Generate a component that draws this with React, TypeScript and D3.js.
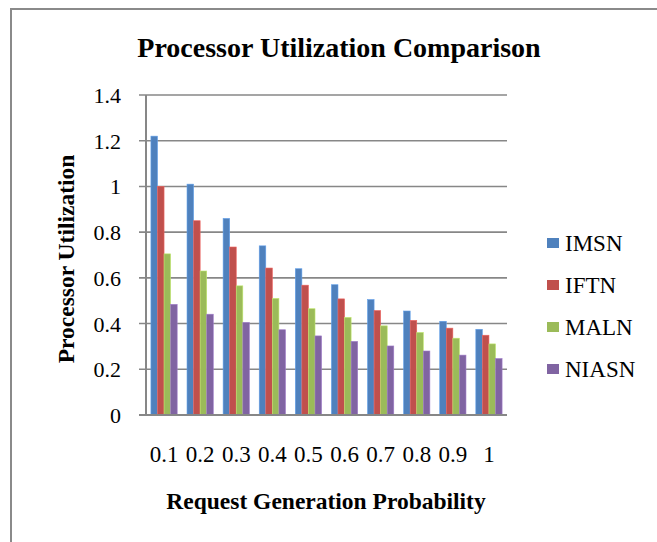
import React, { useEffect, useRef } from 'react';
import * as d3 from 'd3';

const categories = ['0.1', '0.2', '0.3', '0.4', '0.5', '0.6', '0.7', '0.8', '0.9', '1'];
const seriesNames = ['IMSN', 'IFTN', 'MALN', 'NIASN'];
const imsn = [1.22, 1.01, 0.86, 0.74, 0.64, 0.57, 0.505, 0.455, 0.41, 0.375];
const iftn = [1.0, 0.85, 0.735, 0.643, 0.568, 0.508, 0.457, 0.414, 0.38, 0.349];
const maln = [0.705, 0.63, 0.565, 0.51, 0.465, 0.427, 0.39, 0.361, 0.336, 0.311];
const niasn = [0.484, 0.441, 0.405, 0.373, 0.346, 0.322, 0.302, 0.28, 0.262, 0.247];
const yTicks = [0, 0.2, 0.4, 0.6, 0.8, 1, 1.2, 1.4];
const colors = ['#4F81BD', '#C0504D', '#9BBB59', '#8064A2'];

const W = 657;
const H = 542;
const FONT = '"Liberation Serif", "Times New Roman", serif';

export default function App() {
  const svgRef = useRef<SVGSVGElement | null>(null);

  useEffect(() => {
    if (!svgRef.current) return;
    const svg = d3.select(svgRef.current);
    svg.selectAll('*').remove();

    const values = [imsn, iftn, maln, niasn];
    const plot = { left: 146, right: 507, top: 95, bottom: 415 };

    // outer frame (only left and top edges show)
    svg.append('rect')
      .attr('x', 11).attr('y', 9)
      .attr('width', W + 20).attr('height', H + 20)
      .attr('fill', '#fff')
      .attr('stroke', '#8a8a8a')
      .attr('stroke-width', 2);

    const x = d3.scaleBand<string>()
      .domain(categories)
      .range([plot.left, plot.right])
      .paddingInner(1.5 / 5.5)
      .paddingOuter(0.75 / 5.5);

    const xs = d3.scaleBand<string>()
      .domain(seriesNames)
      .range([0, x.bandwidth()]);

    const y = d3.scaleLinear().domain([0, 1.4]).range([plot.bottom, plot.top]);

    // grid
    svg.append('g')
      .selectAll('line')
      .data(yTicks.filter(d => d > 0))
      .join('line')
      .attr('x1', plot.left - 7)
      .attr('x2', plot.right)
      .attr('y1', d => y(d))
      .attr('y2', d => y(d))
      .attr('stroke', '#878787')
      .attr('stroke-width', 1.6);

    // bars
    values.forEach((vals, si) => {
      svg.append('g')
        .selectAll('rect')
        .data(vals)
        .join('rect')
        .attr('x', (d, i) => (x(categories[i]) as number) + (xs(seriesNames[si]) as number))
        .attr('y', d => y(d))
        .attr('width', xs.bandwidth())
        .attr('height', d => plot.bottom - y(d))
        .attr('fill', colors[si])
        .attr('stroke', d3.color(colors[si])!.brighter(0.6).toString())
        .attr('stroke-width', 0.6);
    });

    // axes lines
    svg.append('line')
      .attr('x1', plot.left).attr('x2', plot.left)
      .attr('y1', plot.top).attr('y2', plot.bottom)
      .attr('stroke', '#878787').attr('stroke-width', 2);
    svg.append('line')
      .attr('x1', plot.left - 7).attr('x2', plot.right)
      .attr('y1', plot.bottom).attr('y2', plot.bottom)
      .attr('stroke', '#878787').attr('stroke-width', 2);

    // y tick labels
    svg.append('g')
      .selectAll('text')
      .data(yTicks)
      .join('text')
      .attr('x', 121)
      .attr('y', d => y(d) + 8)
      .attr('text-anchor', 'end')
      .attr('font-family', FONT)
      .attr('font-size', 22)
      .text(d => String(d));

    // x tick labels
    svg.append('g')
      .selectAll('text')
      .data(categories)
      .join('text')
      .attr('x', d => (x(d) as number) + x.bandwidth() / 2)
      .attr('y', 462)
      .attr('text-anchor', 'middle')
      .attr('font-family', FONT)
      .attr('font-size', 23)
      .text(d => d);

    // title
    svg.append('text')
      .attr('x', 339).attr('y', 57)
      .attr('text-anchor', 'middle')
      .attr('font-family', FONT)
      .attr('font-weight', 'bold')
      .attr('font-size', 28)
      .text('Processor Utilization Comparison');

    // axis titles
    svg.append('text')
      .attr('x', 326).attr('y', 509)
      .attr('text-anchor', 'middle')
      .attr('font-family', FONT)
      .attr('font-weight', 'bold')
      .attr('font-size', 23.5)
      .text('Request Generation Probability');

    svg.append('text')
      .attr('transform', 'translate(74,259) rotate(-90)')
      .attr('text-anchor', 'middle')
      .attr('font-family', FONT)
      .attr('font-weight', 'bold')
      .attr('font-size', 23.5)
      .text('Processor Utilization');

    // legend
    const legend = svg.append('g');
    seriesNames.forEach((name, i) => {
      const cy = 243 + i * 42;
      legend.append('rect')
        .attr('x', 547).attr('y', cy - 5)
        .attr('width', 12).attr('height', 10)
        .attr('fill', colors[i]);
      legend.append('text')
        .attr('x', 565).attr('y', cy + 8)
        .attr('font-family', FONT)
        .attr('font-size', 23)
        .text(name);
    });
  }, []);

  return (
    <div style={{ position: 'fixed', left: 0, top: 0, width: W, height: H, background: '#fff' }}>
      <svg ref={svgRef} width={W} height={H} style={{ display: 'block' }} />
    </div>
  );
}
